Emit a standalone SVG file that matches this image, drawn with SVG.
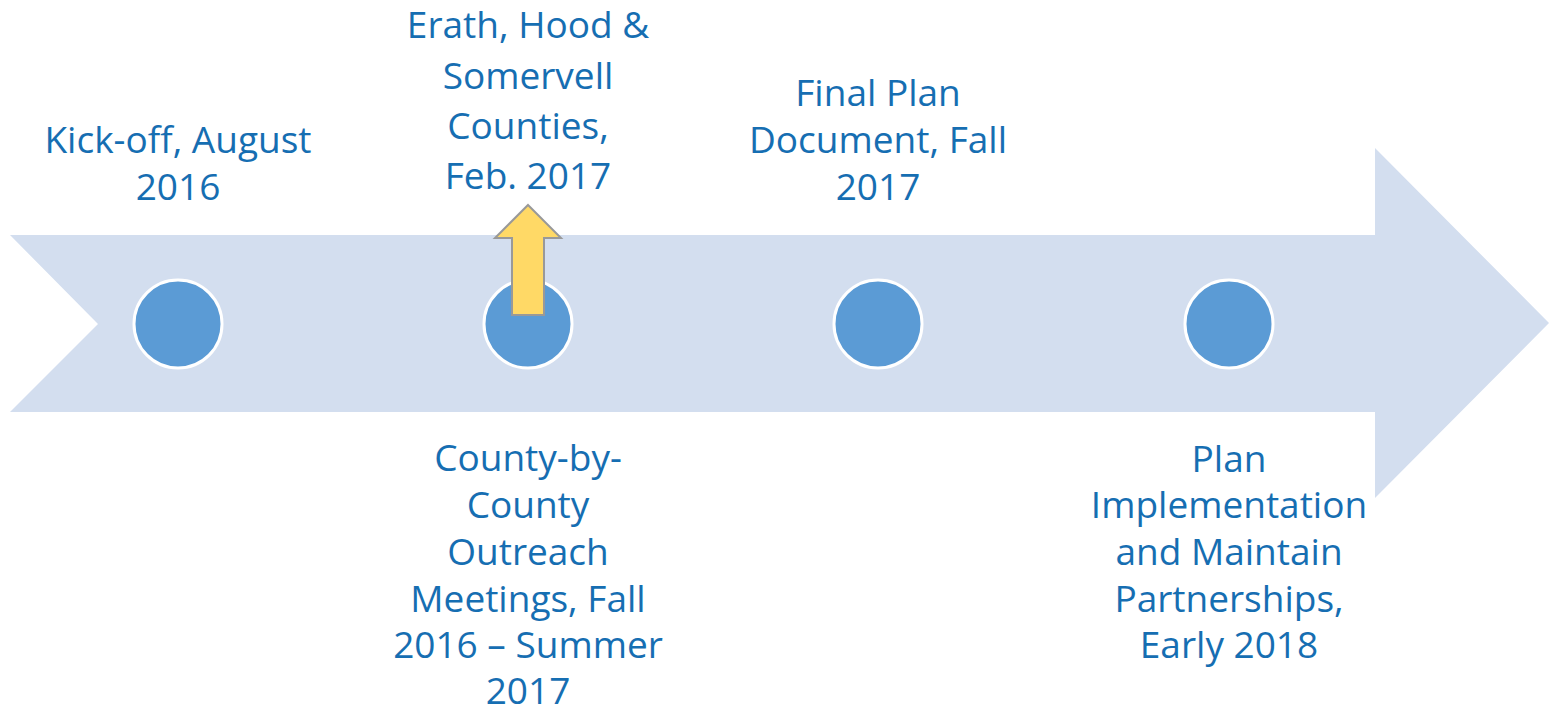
<svg xmlns="http://www.w3.org/2000/svg" width="1549" height="709" viewBox="0 0 1549 709">
<style>
.lbl{font-family:"Open Sans","Liberation Sans",sans-serif;font-size:37px;fill:#166EB2;text-anchor:middle}
.dot{fill:#5B9BD5;stroke:#FFFFFF;stroke-width:3}
</style>
<rect width="1549" height="709" fill="#FFFFFF"/>
<g id="timeline">
<polygon points="10,235 1375,235 1375,148 1549,323 1375,498 1375,412 10,412 98,324" fill="#D3DEEF"/>
</g>
<g id="node1">
<circle class="dot" cx="178" cy="324" r="44"/>
<text class="lbl"><tspan x="178" y="153">Kick-off, August</tspan><tspan x="178" y="200">2016</tspan></text>
</g>
<g id="node2">
<circle class="dot" cx="528" cy="324" r="44"/>
<text class="lbl"><tspan x="528" y="471">County-by-</tspan><tspan x="528" y="518">County</tspan><tspan x="528" y="565">Outreach</tspan><tspan x="528" y="612">Meetings, Fall</tspan><tspan x="528" y="658">2016 – Summer</tspan><tspan x="528" y="704">2017</tspan></text>
</g>
<g id="node3">
<circle class="dot" cx="878" cy="324" r="44"/>
<text class="lbl"><tspan x="878" y="106">Final Plan</tspan><tspan x="878" y="153">Document, Fall</tspan><tspan x="878" y="200">2017</tspan></text>
</g>
<g id="node4">
<circle class="dot" cx="1229" cy="324" r="44"/>
<text class="lbl"><tspan x="1229" y="472">Plan</tspan><tspan x="1229" y="518">Implementation</tspan><tspan x="1229" y="565">and Maintain</tspan><tspan x="1229" y="612">Partnerships,</tspan><tspan x="1229" y="658">Early 2018</tspan></text>
</g>
<g id="connectors">
<polygon points="528,205 561,238 544,238 544,315 512,315 512,238 495,238" fill="#FFD966" stroke="#999999" stroke-width="2" stroke-linejoin="miter"/>
</g>
<g id="node5">
<text class="lbl"><tspan x="528" y="38">Erath, Hood &amp;</tspan><tspan x="528" y="89">Somervell</tspan><tspan x="528" y="139">Counties,</tspan><tspan x="528" y="189">Feb. 2017</tspan></text>
</g>
</svg>
